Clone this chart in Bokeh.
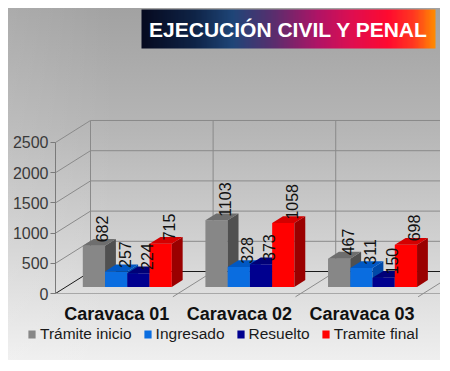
import numpy as np
from bokeh.plotting import figure
from bokeh.models import Range1d, FixedTicker, ColumnDataSource, Legend, LegendItem
from bokeh.core.properties import value
from bokeh.embed import file_html
from bokeh.resources import INLINE

# ---------------- data ----------------
categories = ["Caravaca 01", "Caravaca 02", "Caravaca 03"]
series_names = ["Trámite inicio", "Ingresado", "Resuelto", "Tramite final"]
tramite_inicio = [682, 1103, 467]
ingresado = [257, 328, 311]
resuelto = [224, 373, 150]
tramite_final = [715, 1058, 698]
y_ticks = [0, 500, 1000, 1500, 2000, 2500]
title_text = "EJECUCIÓN CIVIL Y PENAL"

series_values = [tramite_inicio, ingresado, resuelto, tramite_final]

# ---------------- styles / layout ----------------
front_colors = ["#878787", "#0a6de0", "#00008f", "#ff0000"]
side_colors = ["#505050", "#0049a8", "#00005c", "#9a0000"]
top_colors = ["#6e6e6e", "#0058c4", "#000078", "#d40000"]
FONT = "Liberation Sans"

M = 8                      # page margin
W, H = 432, 352            # figure size (frame covers all of it)
AX_PX = 55                 # page x of the front-left vertical edge (x = 0)
ZERO_PY = 293              # page y of value 0 on the front plane
kx = 3.14 / 385.0          # data units per px (x)
ky = 4834.0 / 292.0        # data units per px (y)


def px2x(px):
    return (px - AX_PX) * kx


def py2y(py):
    return (ZERO_PY - py) * ky


X0, X1 = px2x(M), px2x(M + W)
Y0, Y1 = py2y(M + H), py2y(M)

DX, DY = 35 * kx, 22 * ky      # depth of the floor
z0, dz = 0.30, 0.31            # bar depth position / thickness (fraction)
bw = 0.1815                    # bar width (category units)
n_cat = len(categories)
y_top = y_ticks[-1]

p = figure(width=W, height=H, x_range=Range1d(X0, X1), y_range=Range1d(Y0, Y1),
           output_backend="svg", toolbar_location=None,
           min_border_left=0, min_border_right=0, min_border_top=0,
           min_border_bottom=0)
p.margin = (M, 0, 0, M)
p.background_fill_color = None
p.border_fill_color = None
p.outline_line_color = None
p.grid.visible = False
p.styles = {"background": "linear-gradient(to right, rgba(255,255,255,0.10) 0%, rgba(255,255,255,0) 25%), "
                          "linear-gradient(to bottom, #a2a2a2 0%, #b6b6b6 35%, #d4d4d4 70%, #efefef 100%)"}

# ---- title box with gradient ----
stops_f = [0.0, 0.18, 0.31, 0.45, 0.6, 0.72, 0.84, 0.93, 1.0]
stops_c = ["#060a20", "#0f2447", "#1f4678", "#5a2e6e", "#b01466", "#e00e50",
           "#ff0a30", "#ff3a20", "#ff8c00"]
N = 240
fx = np.linspace(0, 1, N)
rgb = np.array([[int(c[i:i + 2], 16) for i in (1, 3, 5)] for c in stops_c], dtype=float)
img = np.zeros((1, N), dtype=np.uint32)
view = img.view(dtype=np.uint8).reshape((1, N, 4))
for ch in range(3):
    view[0, :, ch] = np.interp(fx, stops_f, rgb[:, ch]).astype(np.uint8)
view[0, :, 3] = 255
tx0, tx1 = px2x(141), px2x(435)
ty0, ty1 = py2y(48), py2y(9)
p.image_rgba(image=[img], x=tx0, y=ty0, dw=tx1 - tx0, dh=ty1 - ty0)
p.text(x=[(tx0 + tx1) / 2], y=[(ty0 + ty1) / 2], text=[title_text],
       text_font=value(FONT), text_font_size="21px", text_font_style="bold",
       text_color="white", text_align="center", text_baseline="middle")

# ---- walls & grid ----
for v in y_ticks:
    col = "#1a1a1a" if v == 0 else "#8a8a8a"
    p.line(x=[0, DX, n_cat + 0.5 + DX], y=[v, v + DY, v + DY], line_color=col, line_width=1)
for k in range(n_cat + 1):
    p.line(x=[k + DX, k + DX], y=[DY, y_top + DY], line_color="#8a8a8a", line_width=1)
# floor
p.line(x=[0, n_cat + 0.5], y=[0, 0], line_color="#a8a8a8", line_width=1)
for k in range(1, n_cat + 1):
    p.line(x=[k - 0.15 * DX, k + DX], y=[-0.15 * DY, DY], line_color="#8c8c8c", line_width=1)

# ---- bars ----
legend_items = []
lab_x, lab_y, lab_t = [], [], []
for s, vals in enumerate(series_values):
    xl = [i + 0.5 - 2 * bw + s * bw + z0 * DX for i in range(n_cat)]
    xr = [x + bw for x in xl]
    yb = [z0 * DY] * n_cat
    yt = [z0 * DY + v for v in vals]
    src = ColumnDataSource(dict(left=xl, right=xr, bottom=yb, top=yt))
    r = p.quad(left="left", right="right", bottom="bottom", top="top", source=src,
               fill_color=front_colors[s], line_color=None)
    legend_items.append(LegendItem(label=series_names[s], renderers=[r]))
    ox, oy = dz * DX, dz * DY
    side_xs = [[a, a + ox, a + ox, a] for a in xr]
    side_ys = [[b, b + oy, t + oy, t] for b, t in zip(yb, yt)]
    p.patches(xs=side_xs, ys=side_ys, fill_color=side_colors[s], line_color=None)
    top_xs = [[a, c, c + ox, a + ox] for a, c in zip(xl, xr)]
    top_ys = [[t, t, t + oy, t + oy] for t in yt]
    p.patches(xs=top_xs, ys=top_ys, fill_color=top_colors[s], line_color=None)
    for a, c, t, v in zip(xl, xr, yt, vals):
        lab_x.append((a + c) / 2 + ox / 2)
        lab_y.append(t + oy / 2)
        lab_t.append(str(v))

p.text(x=lab_x, y=lab_y, text=lab_t, angle=np.pi / 2, x_offset=3,
       text_font=value(FONT), text_font_size="16px", text_color="#111111",
       text_align="left", text_baseline="middle")

# ---- axes (drawn at fixed positions inside the frame) ----
ya = p.yaxis[0]
ya.fixed_location = 0
ya.ticker = FixedTicker(ticks=y_ticks)
ya.bounds = (y_ticks[0], y_ticks[-1])
ya.axis_line_color = "#7a7a7a"
ya.major_tick_line_color = "#7a7a7a"
ya.major_tick_out = 5
ya.major_tick_in = 0
ya.minor_tick_line_color = None
ya.major_label_standoff = 2
ya.major_label_text_font = FONT
ya.major_label_text_font_size = "16px"
ya.major_label_text_color = "#3a3a3a"

xa = p.xaxis[0]
xa.fixed_location = py2y(300)
xa.ticker = FixedTicker(ticks=[i + 0.5 for i in range(n_cat)])
xa.major_label_overrides = {i + 0.5: c for i, c in enumerate(categories)}
xa.axis_line_color = None
xa.major_tick_line_color = None
xa.minor_tick_line_color = None
xa.major_tick_out = 0
xa.major_label_standoff = 3
xa.major_label_text_font = FONT
xa.major_label_text_font_size = "18px"
xa.major_label_text_font_style = "bold"
xa.major_label_text_color = "#111111"

legend = Legend(items=legend_items, orientation="horizontal", location=(27 - M, 17),
                glyph_width=9, glyph_height=10, label_standoff=4, spacing=11,
                padding=0, margin=0, border_line_color=None, background_fill_alpha=0,
                label_text_font=FONT, label_text_font_size="15.5px",
                label_text_color="#1a1a1a")
p.add_layout(legend, "center")

open("out.html", "w").write(file_html(p, INLINE))
